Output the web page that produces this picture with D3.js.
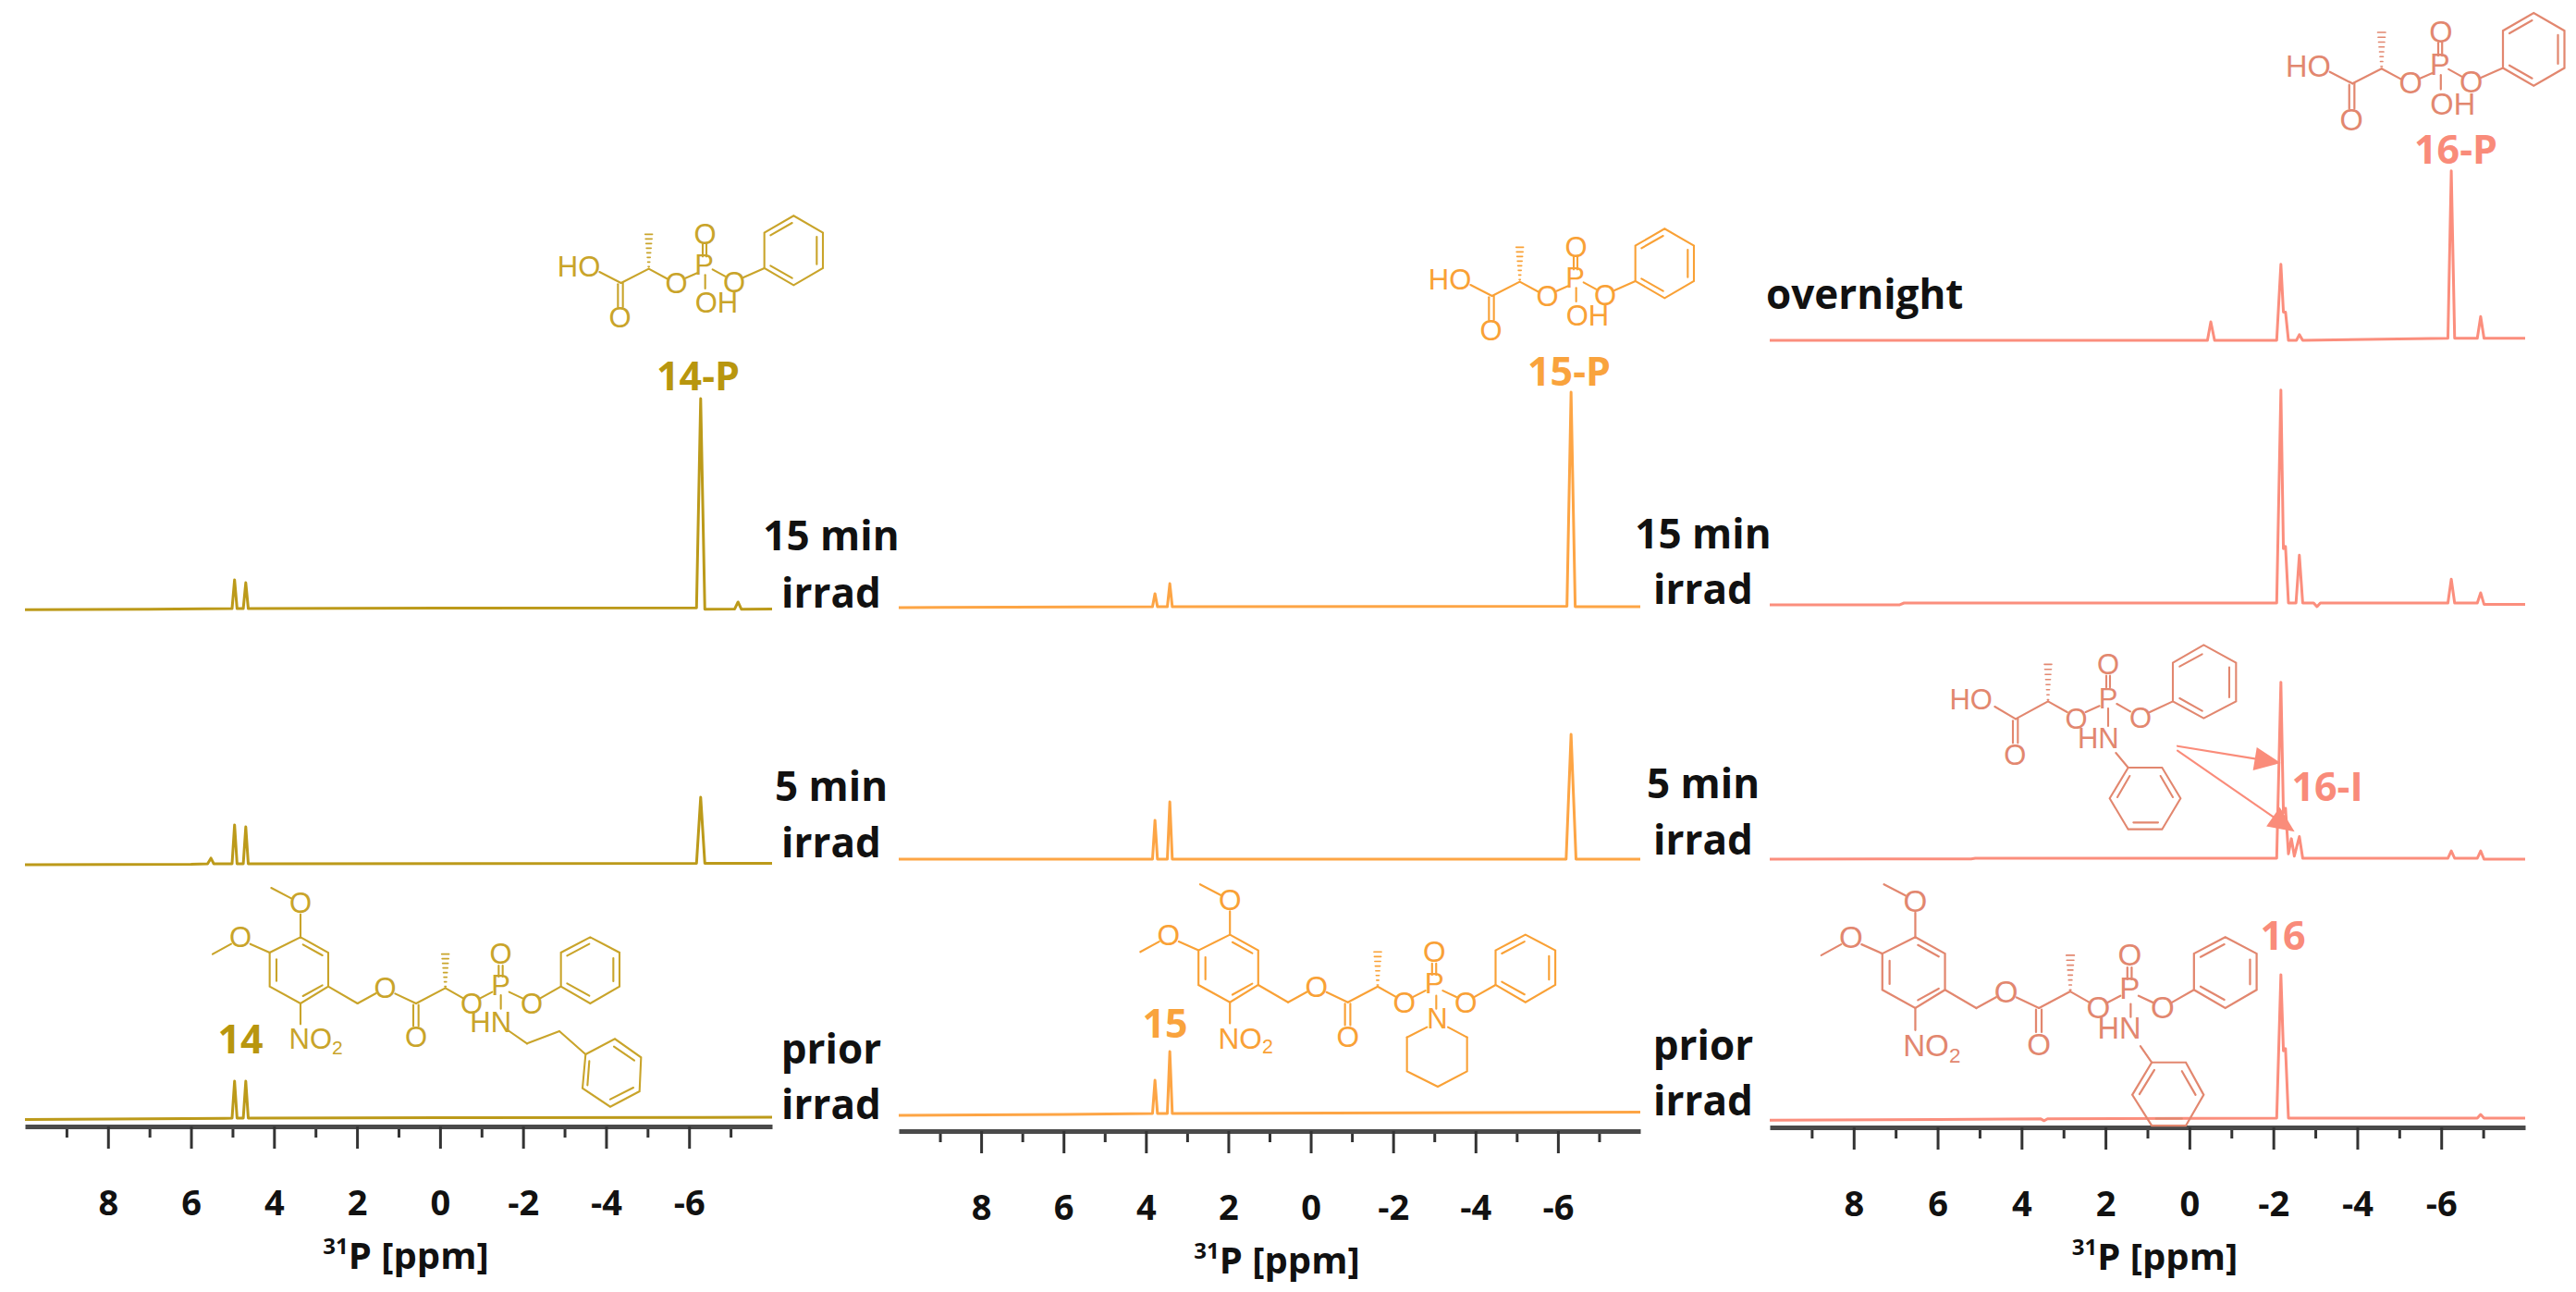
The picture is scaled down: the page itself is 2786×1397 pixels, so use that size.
<!DOCTYPE html>
<html>
<head>
<meta charset="utf-8">
<script src="https://cdn.jsdelivr.net/npm/d3@7"></script>
<style>
  body { margin: 0; background: #fff; }
  svg { display: block; }
</style>
</head>
<body>
<div id="chart"></div>
<script>
// 31P NMR stacks for 14, 15 and 16 before/after irradiation

// ---- data ----
const ppmMajor = [8, 6, 4, 2, 0, -2, -4, -6];
const ppmMinor = [9, 7, 5, 3, 1, -1, -3, -5, -7];
const ppmDomain = [10, -8];

const compounds = ["14", "15", "16"];
const products = ["14-P", "15-P", "16-P"];
const condLabels = [["prior", "irrad"], ["5 min", "irrad"], ["15 min", "irrad"]];
const overnightLabel = "overnight";
const intermediateLabel = "16-I";

// [ppm, intensity] ; intensity 100 ~ tallest peak
const s14_prior = [[10,-0.6],[8,-0.4],[5.2,-0.1],[5.01,0],[4.95,17],[4.89,0],[4.74,0],[4.68,17],[4.62,0],[0,0.2],[-8,0.4]];
const s14_5min = [[10,-0.4],[6,-0.2],[5.6,0],[5.52,2.6],[5.45,0],[5.01,0],[4.95,17.9],[4.89,0],[4.74,0],[4.68,17],[4.62,0],[-6.18,0.2],[-6.28,30.6],[-6.38,0.2],[-8,0.2]];
const s14_15min = [[10,-0.5],[7,-0.3],[5.01,0],[4.95,13.2],[4.89,0],[4.74,0],[4.68,11.9],[4.62,0],[0,0.2],[-6.18,0.3],[-6.28,96.6],[-6.38,-0.3],[-7.1,-0.2],[-7.18,3],[-7.26,-0.3],[-8,-0.2]];

const s15_prior = [[10,-0.8],[6,-0.4],[3.84,0],[3.78,15.3],[3.72,0],[3.48,0],[3.42,28.5],[3.36,0],[-8,0.6]];
const s15_5min = [[10,0],[3.84,0],[3.78,17.9],[3.72,0],[3.48,0],[3.42,26.4],[3.36,0],[-6.2,0],[-6.32,57.4],[-6.44,0],[-8,0]];
const s15_15min = [[10,-0.4],[3.84,0],[3.78,6],[3.72,0],[3.48,0],[3.42,10.6],[3.36,0],[-6.22,0.2],[-6.32,98.7],[-6.42,0],[-8,0]];

const s16_prior = [[10,-1],[6,-0.6],[3.55,-0.3],[3.46,-1.2],[3.38,-0.3],[-2.08,0],[-2.18,66],[-2.24,31],[-2.29,32],[-2.36,0],[-6.86,0],[-6.94,1.7],[-7.02,0],[-8,0]];
const s16_5min = [[10,-0.4],[5.2,-0.3],[5.1,0],[-2.08,0],[-2.18,81],[-2.24,21],[-2.29,23],[-2.36,2],[-2.43,9],[-2.5,1],[-2.62,10],[-2.7,0],[-6.16,0],[-6.24,3.4],[-6.32,0],[-6.86,0],[-6.94,3.4],[-7.02,-0.4],[-8,-0.4]];
const s16_15min = [[10,-0.8],[6.9,-0.8],[6.8,0],[-2.08,0],[-2.18,98],[-2.24,25],[-2.29,26],[-2.36,0],[-2.54,0],[-2.62,22],[-2.7,0],[-2.96,0],[-3.04,-1.7],[-3.12,0],[-6.16,0],[-6.24,11],[-6.32,0],[-6.86,0],[-6.94,4.7],[-7.02,-0.6],[-8,-0.6]];
const s16_over = [[10,0],[-0.43,0],[-0.51,8.5],[-0.6,0],[-2.08,0],[-2.18,35],[-2.24,13],[-2.29,13],[-2.36,0],[-2.55,0],[-2.62,2.6],[-2.7,0],[-6.16,1],[-6.24,78],[-6.32,1],[-6.86,1],[-6.94,11],[-7.02,1],[-8,1]];

// ---- layout ----
const W = 2786, H = 1397;
const peakPx = 235; // px for intensity 100

const panels = [
  { x0: 27, x1: 835, axisY: 1218, bases: [1209, 934, 658],
    spectra: [s14_prior, s14_5min, s14_15min],
    trace: "#BC9A1A", struct: "#C9A42A", label: "#B8960E" },
  { x0: 972, x1: 1774, axisY: 1223, bases: [1204, 929, 656],
    spectra: [s15_prior, s15_5min, s15_15min],
    trace: "#FDA545", struct: "#F9A136", label: "#F9A33D" },
  { x0: 1914, x1: 2731, axisY: 1219, bases: [1209, 928, 652, 368],
    spectra: [s16_prior, s16_5min, s16_15min, s16_over],
    trace: "#FB8E7D", struct: "#E2876F", label: "#F98B7A" }
];

const svg = d3.select("#chart").append("svg")
  .attr("width", W).attr("height", H)
  .attr("viewBox", [0, 0, W, H]);

const boldFont = "'Open Sans', 'DejaVu Sans', sans-serif";
const atomFont = "'Liberation Sans', Arial, sans-serif";

// spectra + axes
panels.forEach(function(p, pi) {
  p.x = d3.scaleLinear().domain(ppmDomain).range([p.x0, p.x1]);

  p.spectra.forEach(function(s, i) {
    const y = d3.scaleLinear().domain([0, 100]).range([p.bases[i], p.bases[i] - peakPx]);
    const line = d3.line().x(d => p.x(d[0])).y(d => y(d[1]));
    svg.append("path")
      .datum(s)
      .attr("d", line)
      .attr("fill", "none")
      .attr("stroke", p.trace)
      .attr("stroke-width", 3)
      .attr("stroke-linejoin", "round");
  });

  // minor ticks
  const gMin = svg.append("g")
    .attr("transform", `translate(0,${p.axisY})`)
    .call(d3.axisBottom(p.x).tickValues(ppmMinor).tickSize(12).tickSizeOuter(0).tickFormat(""));
  gMin.select(".domain").remove();
  gMin.selectAll(".tick line").attr("stroke", "#333").attr("stroke-width", 3);

  // major ticks + labels
  const gMaj = svg.append("g")
    .attr("transform", `translate(0,${p.axisY})`)
    .call(d3.axisBottom(p.x).tickValues(ppmMajor).tickSize(24).tickSizeOuter(0)
      .tickPadding(45).tickFormat(d => String(d)));
  gMaj.select(".domain").attr("stroke", "#4a4a4a").attr("stroke-width", 5);
  gMaj.selectAll(".tick line").attr("stroke", "#333").attr("stroke-width", 3);
  gMaj.selectAll(".tick text")
    .attr("font-family", boldFont).attr("font-size", 38)
    .attr("font-weight", "bold").attr("fill", "#111");

  // axis title
  const t = svg.append("text")
    .attr("x", (p.x0 + p.x1) / 2 + 8)
    .attr("y", p.axisY + 154)
    .attr("text-anchor", "middle")
    .attr("font-family", boldFont).attr("font-size", 40)
    .attr("font-weight", "bold").attr("fill", "#111");
  t.append("tspan").attr("font-size", 24).attr("dy", -16).text("31");
  t.append("tspan").attr("dy", 16).text("P [ppm]");
});

// condition labels right of panels 1 and 2
const condCols = [
  { x: 899, ys: [[1150, 1210], [866, 927], [595, 657]] },
  { x: 1842, ys: [[1146, 1206], [863, 924], [593, 653]] }
];
condCols.forEach(function(c) {
  condLabels.forEach(function(lab, i) {
    lab.forEach(function(s, k) {
      svg.append("text")
        .attr("x", c.x).attr("y", c.ys[i][k])
        .attr("text-anchor", "middle")
        .attr("font-family", boldFont).attr("font-size", 44)
        .attr("font-weight", "bold").attr("fill", "#111")
        .text(s);
    });
  });
});
svg.append("text")
  .attr("x", 1910).attr("y", 334)
  .attr("font-family", boldFont).attr("font-size", 44)
  .attr("font-weight", "bold").attr("fill", "#111")
  .text(overnightLabel);

// ---- structure drawings (coords in 1/3 px units of the local frame) ----
function drawMol(def, ox, oy, s, color) {
  const X = v => ox + s * v / 3, Y = v => oy + s * v / 3;
  const g = svg.append("g")
    .attr("stroke", color).attr("fill", "none")
    .attr("stroke-width", 2.1 * s).attr("stroke-linecap", "round");
  (def.b || []).forEach(b => g.append("line")
    .attr("x1", X(b[0])).attr("y1", Y(b[1])).attr("x2", X(b[2])).attr("y2", Y(b[3])));
  (def.r || []).forEach(r => g.append("path")
    .attr("d", "M" + r.map(q => X(q[0]) + "," + Y(q[1])).join("L") + "Z"));
  (def.o || []).forEach(r => g.append("path")
    .attr("d", "M" + r.map(q => X(q[0]) + "," + Y(q[1])).join("L")));
  (def.h || []).forEach(function(b) {
    const dx = b[2] - b[0], dy = b[3] - b[1], len = Math.hypot(dx, dy);
    const nx = -dy / len, ny = dx / len;
    for (let k = 0; k <= 7; k++) {
      const f = k / 7, px = b[0] + dx * f, py = b[1] + dy * f, hw = 2 + 10 * f;
      g.append("line")
        .attr("x1", X(px - nx * hw)).attr("y1", Y(py - ny * hw))
        .attr("x2", X(px + nx * hw)).attr("y2", Y(py + ny * hw))
        .attr("stroke-width", 1.6 * s);
    }
  });
  (def.a || []).forEach(function(a) {
    const dx = a[2] - a[0], dy = a[3] - a[1], len = Math.hypot(dx, dy);
    const ux = dx / len, uy = dy / len, hl = 85, hw = 38;
    const bx = a[2] - ux * hl, by = a[3] - uy * hl;
    g.append("line").attr("x1", X(a[0])).attr("y1", Y(a[1])).attr("x2", X(bx)).attr("y2", Y(by))
      .attr("stroke", def.arrowColor);
    g.append("path")
      .attr("d", `M${X(a[2])},${Y(a[3])}L${X(bx - uy * hw)},${Y(by + ux * hw)}L${X(bx + uy * hw)},${Y(by - ux * hw)}Z`)
      .attr("fill", def.arrowColor).attr("stroke", "none");
  });
  (def.t || []).forEach(function(t) {
    const txt = svg.append("text")
      .attr("x", X(t[0])).attr("y", Y(t[1]))
      .attr("text-anchor", "middle").attr("dominant-baseline", "central")
      .attr("font-family", atomFont).attr("font-size", 31 * s)
      .attr("fill", color)
      .text(t[2]);
    if (t[3]) txt.append("tspan").attr("font-size", 21 * s).attr("dy", 9 * s).text(t[3]);
  });
}

// product: HO2C-CH(CH3)-O-P(O)(OH)-OPh
const molProduct = {
  t: [[138,205,"HO"],[272,370,"O"],[455,258,"O"],[545,200,"P"],[548,100,"O"],[585,322,"OH"],[642,255,"O"]],
  b: [[205,222,275,258],[275,258,365,212],[365,212,428,246],[484,242,522,226],[548,232,548,276],
      [572,214,612,236],[672,240,740,210],
      [265,262,265,336],[281,258,281,336],[540,172,540,132],[552,172,552,132],
      [760,103,830,63],[910,108,910,197],[760,202,830,242]],
  h: [[365,205,365,100]],
  r: [[[740,210],[740,95],[835,40],[930,95],[930,210],[835,265]]]
};

// common skeleton of the caged compounds
const molCaged = {
  t: [[375,80,"O"],[180,190,"O"],[425,520,"NO","2"],[650,355,"O"],[750,515,"O"],[930,405,"O"],
      [1025,345,"P"],[1025,245,"O"],[1125,405,"O"]],
  b: [[280,30,345,64],[375,116,375,190],[90,245,150,212],[212,212,275,240],[375,405,375,472],
      [465,350,560,405],[560,405,620,372],[682,373,750,405],[750,405,845,355],[845,355,903,388],
      [958,388,997,368],[1052,368,1095,388],[1153,388,1220,350],
      [741,410,741,478],[758,410,758,478],[1018,318,1018,282],[1031,318,1031,282],
      [383,214,446,249],[297,262,297,332],[383,381,446,346],
      [1240,250,1312,212],[1390,258,1390,333],[1240,340,1312,380]],
  h: [[845,350,845,245]],
  r: [[[375,190],[465,240],[465,350],[375,405],[275,350],[275,240]],
      [[1220,350],[1220,240],[1315,190],[1410,240],[1410,350],[1315,405]]]
};

const amine14 = {
  t: [[992,465,"HN"]],
  b: [[1025,378,1025,422],[1048,492,1110,535],[1110,535,1215,495],[1215,495,1300,570],
      [1392,545,1458,590],[1380,716,1455,678],[1312,592,1306,670]],
  r: [[[1300,570],[1395,520],[1480,580],[1475,690],[1380,740],[1290,680]]]
};
const amine15 = {
  t: [[1063,485,"N"]],
  b: [[1060,410,1060,452],[1030,512,965,545],[1098,512,1160,545]],
  o: [[[965,545],[965,655],[1065,705],[1160,655],[1160,545]]]
};
const amine16 = {
  t: [[975,490,"HN"]],
  b: [[1010,415,1010,455],[1040,545,1075,595],
      [1168,622,1210,695],[1088,768,1168,768],[1037,693,1083,618]],
  r: [[[1075,595],[1180,595],[1235,695],[1180,790],[1075,790],[1015,695]]]
};

const mol16I = {
  t: [[155,200,"HO"],[298,380,"O"],[497,262,"O"],[600,195,"P"],[600,85,"O"],[705,258,"O"],[568,325,"HN"]],
  b: [[232,222,300,262],[300,262,405,205],[405,205,467,240],[527,240,572,220],[628,213,672,238],
      [735,240,810,205],[600,228,600,285],[625,372,665,420],
      [291,268,291,340],[307,262,307,340],[594,160,594,122],[606,160,606,122],
      [832,92,905,52],[993,95,993,192],[832,195,905,236],
      [770,447,810,516],[682,598,762,598],[630,516,670,447]],
  h: [[405,200,405,85]],
  r: [[[810,205],[810,80],[910,22],[1015,80],[1015,205],[910,260]],
      [[665,420],[775,420],[835,520],[775,620],[665,620],[605,520]]],
  a: [[825,350,1160,405],[825,365,1205,628]],
  arrowColor: "#FA8C7A"
};

// products above the 15 min traces
drawMol(molProduct, 580, 220, 1, panels[0].struct);
drawMol(molProduct, 1522, 234, 1, panels[1].struct);
drawMol(molProduct, 2448, 0, 1.05, panels[2].struct);

// caged starting materials
drawMol(molCaged, 200, 950, 1, panels[0].struct);
drawMol(amine14, 200, 950, 1, panels[0].struct);
drawMol(molCaged, 1202.7, 946, 1.02, panels[1].struct);
drawMol(amine15, 1200, 940, 1, panels[1].struct);
drawMol(molCaged, 1937.7, 945.5, 1.07, panels[2].struct);
drawMol(amine16, 1950, 940, 1.0526, panels[2].struct);

// intermediate
drawMol(mol16I, 2080, 690, 1, panels[2].struct);

// compound labels
const labelPos = [
  [products[0], 755, 405, 0], [products[1], 1697, 400, 1], [products[2], 2656, 160, 2],
  [compounds[0], 260, 1122, 0], [compounds[1], 1260, 1105, 1], [compounds[2], 2469, 1010, 2],
  [intermediateLabel, 2517, 849, 2]
];
labelPos.forEach(function(l) {
  svg.append("text")
    .attr("x", l[1]).attr("y", l[2])
    .attr("text-anchor", "middle").attr("dominant-baseline", "central")
    .attr("font-family", boldFont).attr("font-size", 43)
    .attr("font-weight", "bold").attr("fill", panels[l[3]].label)
    .text(l[0]);
});
</script>
</body>
</html>
